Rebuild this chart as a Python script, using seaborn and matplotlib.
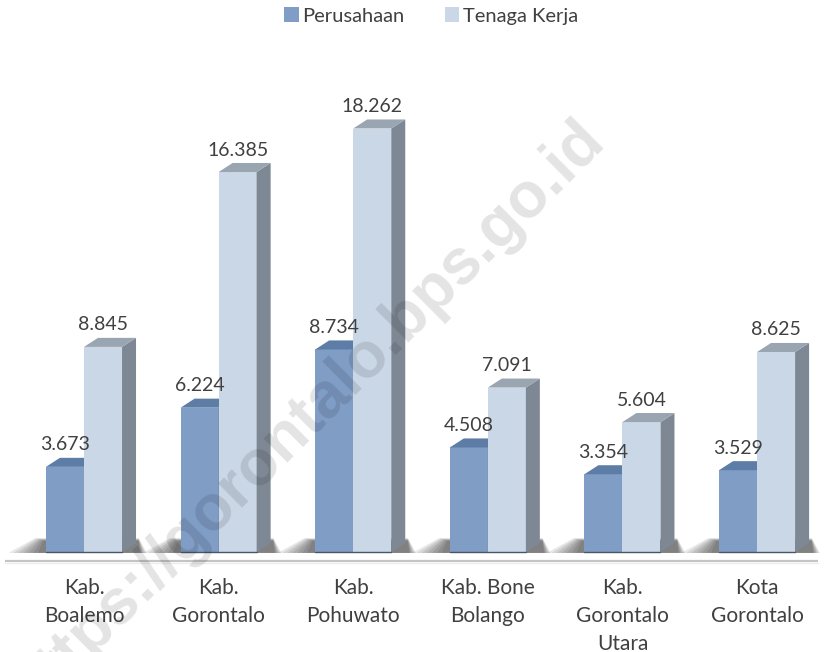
import numpy as np
import pandas as pd
import matplotlib
matplotlib.use("Agg")
import matplotlib.pyplot as plt
from matplotlib.patches import Polygon
import seaborn as sns

# ---- data ----
wilayah = ["Kab.\nBoalemo", "Kab.\nGorontalo", "Kab.\nPohuwato",
           "Kab. Bone\nBolango", "Kab.\nGorontalo\nUtara", "Kota\nGorontalo"]
perusahaan = [3673, 6224, 8734, 4508, 3354, 3529]
tenaga_kerja = [8845, 16385, 18262, 7091, 5604, 8625]
seri = ["Perusahaan", "Tenaga Kerja"]

front_colors = ["#7f9dc5", "#cad7e7"]
side_colors = ["#7a8592", "#7e8894"]
top_colors = ["#5d7ca6", "#9aa5b2"]
text_color = "#404040"

df = pd.DataFrame({
    "Wilayah": wilayah * 2,
    "Seri": [seri[0]] * len(wilayah) + [seri[1]] * len(wilayah),
    "Jumlah": perusahaan + tenaga_kerja,
})

sns.set_theme(style="white")
plt.rcParams["font.family"] = ["Lato", "DejaVu Sans"]

fig = plt.figure(figsize=(8.28, 6.52), dpi=100)
ax = fig.add_axes([0.0, (652 - 570.6) / 652, 1.0, (570.6 - 65) / 652])

sns.barplot(data=df, x="Wilayah", y="Jumlah", hue="Seri", palette=front_colors,
            width=0.565, dodge=True, saturation=1, ax=ax, legend=False,
            linewidth=0, errorbar=None)

ax.set_xlim(-0.624, 5.527)
ax.set_ylim(-800, 21000)

# depth of 3D effect
dx = 0.104          # category units (~14 px)
dy = 390            # data units (~9 px)

# shadow under groups
for i in range(len(wilayah)):
    xl = i - 0.2825
    xr = i + 0.2825 + dx
    for k in range(7):
        s = k / 6.0
        poly = Polygon([(xl - 0.28 + 0.22 * s, -40), (xl - 0.08 + 0.06 * s, 600 - 120 * s),
                        (xr + 0.02, 600 - 120 * s), (xr + 0.08 - 0.05 * s, -40)],
                       closed=True, facecolor="black", alpha=0.09, edgecolor="none", zorder=1)
        ax.add_patch(poly)

# floor line
ax.plot([-0.59, 5.45], [-390, -390], color="#c4c4c4", lw=1.6, zorder=1, solid_capstyle="butt")
ax.plot([-0.59, 5.45], [-460, -460], color="#eeeeee", lw=1.0, zorder=1)

# 3D faces + labels
for si, cont in enumerate(ax.containers):
    z = 2 + si
    vals = perusahaan if si == 0 else tenaga_kerja
    for bar, v in zip(cont, vals):
        bar.set_zorder(z)
        x0 = bar.get_x()
        w = bar.get_width()
        h = bar.get_height()
        x1 = x0 + w
        side = Polygon([(x1, 0), (x1 + dx, dy), (x1 + dx, h + dy), (x1, h)],
                       closed=True, facecolor=side_colors[si], edgecolor="none", zorder=z)
        top = Polygon([(x0, h), (x0 + dx, h + dy), (x1 + dx, h + dy), (x1, h)],
                      closed=True, facecolor=top_colors[si], edgecolor="none", zorder=z)
        ax.add_patch(side)
        ax.add_patch(top)
        ax.plot([x0, x1], [0, 0], color="#4a5565", lw=1.0, zorder=z + 0.1)
        label = f"{v:,}".replace(",", ".")
        ax.text(x0 + w / 2, h + 950, label, ha="center", va="center",
                fontsize=14, color=text_color, zorder=6)

# axes styling
for sp in ax.spines.values():
    sp.set_visible(False)
ax.set_yticks([])
ax.set_xlabel("")
ax.set_ylabel("")
ax.tick_params(axis="x", length=0, pad=5, labelsize=15, labelcolor=text_color)
for t in ax.get_xticklabels():
    t.set_linespacing(1.52)
ax.set_facecolor("white")

# legend
handles = [plt.Rectangle((0, 0), 1, 1, facecolor=c, edgecolor="none") for c in front_colors]
fig.legend(handles, seri, loc="center", bbox_to_anchor=(0.521, (652 - 16) / 652), ncol=2,
           frameon=False, fontsize=14.5, handlelength=0.7, handleheight=0.7,
           handletextpad=0.2, columnspacing=2.0, labelcolor=text_color)

# watermark
fig.text(307 / 828, 1 - 415 / 652, "https://gorontalo.bps.go.id", rotation=44.8,
         ha="center", va="center", fontsize=46, fontweight="bold",
         family=["Liberation Sans", "DejaVu Sans"], color="black", alpha=0.11, zorder=10)

fig.savefig("out.png", dpi=100)
